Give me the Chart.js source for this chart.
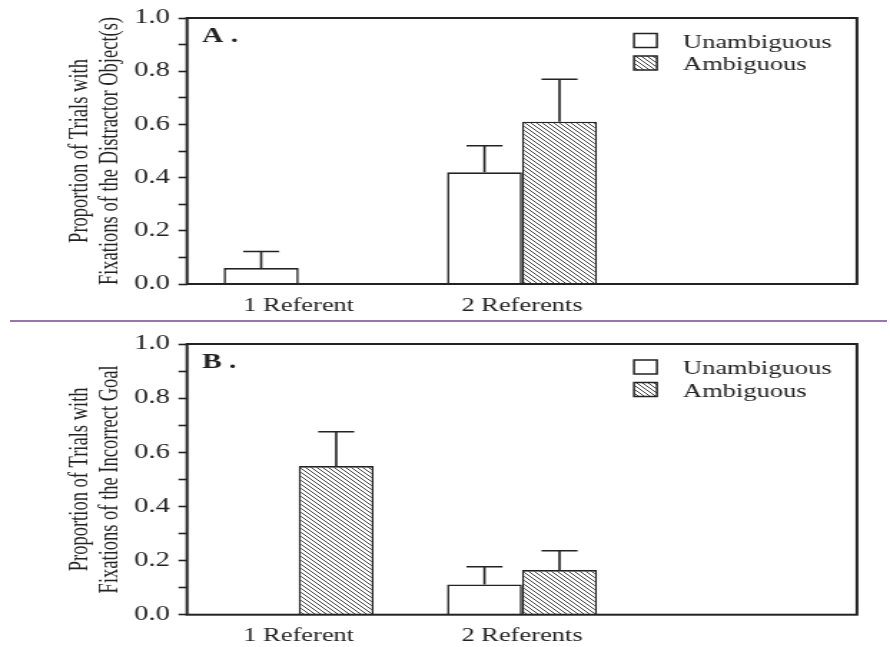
<!DOCTYPE html>
<html>
<head>
<meta charset="utf-8">
<script src="https://cdn.jsdelivr.net/npm/chart.js@4"></script>
<style>
  body { margin: 0; background: #fff; width: 890px; height: 647px; overflow: hidden; position: relative; }
  /* the figure is a horizontally stretched scan, so each panel is drawn narrow and stretched */
  .panel { position: absolute; left: 0; width: 622px; transform-origin: 0 0; transform: scaleX(1.4309); }
  #panelA { top: 0; height: 320px; }
  #panelB { top: 322px; height: 325px; }
  #divider { position: absolute; left: 10px; top: 320px; width: 877px; height: 2px; background: #9479a6; }
</style>
</head>
<body>
<div class="panel" id="panelA"><canvas id="chartA"></canvas></div>
<div id="divider"></div>
<div class="panel" id="panelB"><canvas id="chartB"></canvas></div>
<script>
//data
const categories = ["1 Referent", "2 Referents", ""];
const seriesNames = ["Unambiguous", "Ambiguous"];
const yTicks = [0.0, 0.2, 0.4, 0.6, 0.8, 1.0];

// panel A - distractor object
const unambA = [0.06, 0.42, null];
const unambErrA = [0.062, 0.10, null];
const ambA = [null, 0.61, null];
const ambErrA = [null, 0.16, null];
const titleA = ["Proportion of Trials with", "Fixations of the Distractor Object(s)"];

// panel B - incorrect goal
const unambB = [null, 0.112, null];
const unambErrB = [null, 0.065, null];
const ambB = [0.549, 0.165, null];
const ambErrB = [0.127, 0.071, null];
const titleB = ["Proportion of Trials with", "Fixations of the Incorrect Goal"];

const ink = "#222";
const serif = "'Liberation Serif', 'Times New Roman', serif";

//hatch fill
function makeHatch() {
  const c = document.createElement("canvas");
  c.width = 4;
  c.height = 4;
  const g = c.getContext("2d");
  g.fillStyle = "#fff";
  g.fillRect(0, 0, 4, 4);
  g.strokeStyle = "#444";
  g.lineWidth = 1.0;
  g.beginPath();
  g.moveTo(-1, -1); g.lineTo(5, 5);
  g.moveTo(-1, 3); g.lineTo(1, 5);
  g.moveTo(3, -1); g.lineTo(5, 1);
  g.stroke();
  return g.createPattern(c, "repeat");
}
const hatch = makeHatch();

//plugins
const frame = {
  id: "frame",
  afterDatasetsDraw(chart) {
    const { ctx, chartArea: a } = chart;
    ctx.save();
    ctx.strokeStyle = ink;
    ctx.lineWidth = 2;
    ctx.strokeRect(a.left, a.top, a.right - a.left, a.bottom - a.top);
    ctx.restore();
  },
};

const errorBars = {
  id: "errorBars",
  afterDatasetsDraw(chart) {
    const { ctx } = chart;
    const y = chart.scales.y;
    ctx.save();
    ctx.strokeStyle = ink;
    ctx.lineWidth = 1.6;
    chart.data.datasets.forEach((ds, i) => {
      chart.getDatasetMeta(i).data.forEach((bar, j) => {
        if (ds.data[j] == null || ds.errors[j] == null) return;
        const top = y.getPixelForValue(ds.data[j] + ds.errors[j]);
        ctx.beginPath();
        ctx.moveTo(bar.x, bar.y);
        ctx.lineTo(bar.x, top);
        ctx.moveTo(bar.x - 12.6, top);
        ctx.lineTo(bar.x + 12.6, top);
        ctx.stroke();
      });
    });
    ctx.restore();
  },
};

// legend + panel letter inside the plot box
const boxLegend = {
  id: "boxLegend",
  afterDraw(chart, args, opts) {
    const { ctx, chartArea: a } = chart;
    ctx.save();
    ctx.fillStyle = ink;
    ctx.font = "bold 20.5px " + serif;
    ctx.textBaseline = "alphabetic";
    ctx.fillText(opts.letter, a.left + 10.5, a.top + 23.5);
    ctx.font = "18.5px " + serif;
    chart.data.datasets.forEach((ds, i) => {
      const base = a.top + opts.offset + 29.5 + i * 22.5;
      ctx.fillStyle = ds.backgroundColor;
      ctx.fillRect(a.right - 155.8, base - 14, 16, 14);
      ctx.strokeStyle = ink;
      ctx.lineWidth = 1.5;
      ctx.strokeRect(a.right - 155.8, base - 14, 16, 14);
      ctx.fillStyle = ink;
      ctx.fillText(ds.label, a.right - 121.6, base);
    });
    ctx.restore();
  },
};

function drawPanel(id, letter, unamb, unambErr, amb, ambErr, title, topPad, xHeight, labelPad, legendOffset) {
  const data = {
    labels: categories,
    datasets: [
      {
        label: seriesNames[0],
        data: unamb,
        errors: unambErr,
        backgroundColor: "#fff",
        borderColor: ink,
        borderWidth: 1.6,
      },
      {
        label: seriesNames[1],
        data: amb,
        errors: ambErr,
        backgroundColor: hatch,
        borderColor: ink,
        borderWidth: 1.6,
      },
    ],
  };

  const config = {
    type: "bar",
    data: data,
    options: {
      responsive: true,
      maintainAspectRatio: false,
      animation: false,
      layout: { padding: { top: topPad, right: 23.1, left: 0, bottom: 0 } },
      datasets: { bar: { categoryPercentage: 0.672, barPercentage: 1 } },
      scales: {
        x: {
          grid: { display: false },
          border: { display: false },
          ticks: { color: ink, padding: labelPad, font: { family: serif, size: 18.5 } },
          afterFit: (s) => { s.height = xHeight; },
        },
        y: {
          min: 0,
          max: 1,
          grid: { drawOnChartArea: false, drawTicks: true, tickLength: 6, tickWidth: 1.6, tickColor: ink },
          border: { display: false },
          ticks: {
            stepSize: 0.1,
            autoSkip: false,
            color: ink,
            padding: 6,
            font: { family: serif, size: 20 },
            callback: (value) => {
              const v = Math.round(value * 10) / 10;
              return yTicks.some((t) => Math.abs(t - v) < 1e-6) ? v.toFixed(1) : "";
            },
          },
          title: {
            display: true,
            text: title,
            color: ink,
            align: "center",
            padding: { top: 45.3, bottom: 0 },
            font: { family: serif, size: 18.5, lineHeight: "21px" },
          },
          afterFit: (s) => { s.width = 130.7; },
        },
      },
      plugins: {
        legend: { display: false },
        tooltip: { enabled: false },
        boxLegend: { letter: letter, offset: legendOffset },
      },
    },
    plugins: [frame, errorBars, boxLegend],
  };
  return new Chart(document.getElementById(id), config);
}

//calls
drawPanel("chartA", "A .", unambA, unambErrA, ambA, ambErrA, titleA, 13.5, 36, 3, 0);
drawPanel("chartB", "B .", unambB, unambErrB, ambB, ambErrB, titleB, 22, 32.3, 2, 0.5);
</script>
</body>
</html>
